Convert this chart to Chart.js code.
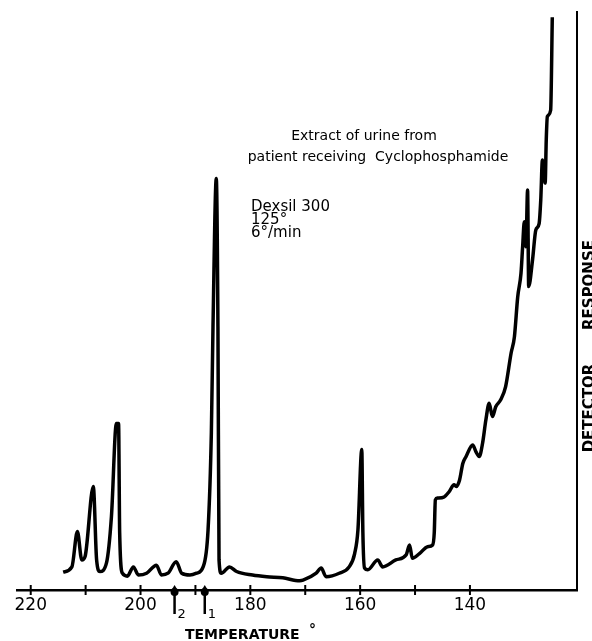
<!DOCTYPE html>
<html>
<head>
<meta charset="utf-8">
<script src="https://cdn.jsdelivr.net/npm/chart.js@4"></script>
<style>
  body { margin: 0; background: #fff; }
  canvas { display: block; }
</style>
</head>
<body>
<canvas id="gcChart" width="592" height="641"></canvas>
<script>
// column temperature (deg C) from left to right
var temps = [214.1, 212.5, 211.5, 210.7, 210.1, 208.6, 208.0, 207.4, 206.2, 205.3,
  204.4, 204.0, 203.8, 203.3, 202.4, 201.3, 200.4, 198.9, 197.1, 196.2,
  195.0, 193.5, 192.5, 191.0, 189.8, 188.6, 187.7, 187.1, 186.8, 186.2,
  185.9, 185.7, 185.3, 183.8, 182.5, 179.6, 177.0, 174.1, 171.0, 170.4,
  168.0, 167.1, 166.2, 163.8, 162.0, 161.0, 160.4, 159.7, 159.5, 159.2,
  158.6, 156.8, 155.9, 153.5, 151.6, 151.0, 150.5, 149.2, 147.7, 146.8,
  146.5, 146.3, 145.9, 144.7, 143.8, 142.9, 142.5, 141.9, 141.3, 140.7,
  139.5, 138.9, 138.3, 137.7, 137.1, 136.5, 135.9, 135.3, 134.4, 133.5,
  132.5, 131.9, 131.3, 130.7, 130.4, 130.1, 129.8, 129.5, 129.3, 128.6,
  128.0, 127.4, 127.1, 126.8, 126.3, 126.1, 125.9, 125.3, 125.0];

// detector response (arbitrary units, 0 - 100)
var response = [3.1, 4.0, 10.1, 5.2, 5.8, 17.9, 5.2, 3.2, 4.7, 12.7,
  28.8, 28.8, 9.9, 2.9, 2.4, 4.0, 2.6, 2.9, 4.3, 2.6,
  2.9, 4.9, 2.9, 2.6, 2.9, 4.0, 10.4, 27.2, 45.6, 71.2,
  45.6, 5.2, 2.9, 4.0, 3.2, 2.6, 2.3, 2.1, 1.6, 1.7,
  2.9, 3.8, 2.3, 2.9, 4.0, 6.3, 10.4, 24.3, 9.9, 3.8,
  3.5, 5.2, 4.0, 5.2, 6.1, 7.8, 5.5, 6.3, 7.5, 7.8,
  9.9, 15.6, 15.9, 16.1, 17.0, 18.2, 17.9, 19.0, 21.9, 23.1,
  25.1, 23.9, 23.1, 25.4, 29.4, 32.3, 30.0, 31.7, 32.9, 35.2,
  41.0, 43.8, 50.7, 54.8, 59.4, 63.7, 59.4, 69.2, 52.5, 57.1,
  62.3, 63.4, 67.5, 74.4, 70.4, 77.9, 81.9, 83.0, 99.1];

var labelTicks = [220, 200, 180, 160, 140];
var minorTicks = [220, 210, 200, 190, 180, 170, 160, 150, 140];
var markerTemps = [193.8, 188.3];
var markerNames = ['2', '1'];

var points = [];
for (var i = 0; i < temps.length; i++) {
  points.push({ x: temps[i], y: response[i] });
}

var decorations = {
  id: 'decorations',
  afterDraw: function (chart) {
    var ctx = chart.ctx;
    var xs = chart.scales.x;
    var bottom = chart.chartArea.bottom;
    ctx.save();
    ctx.strokeStyle = '#000';
    ctx.fillStyle = '#000';
    ctx.lineWidth = 2;

    // tick marks cross the axis line
    minorTicks.forEach(function (t) {
      var px = xs.getPixelForValue(t);
      ctx.beginPath();
      ctx.moveTo(px, bottom - 5);
      ctx.lineTo(px, bottom + 5);
      ctx.stroke();
    });

    // injection markers I2 and I1
    markerTemps.forEach(function (t, k) {
      var px = xs.getPixelForValue(t);
      ctx.lineWidth = 2.5;
      ctx.beginPath();
      ctx.moveTo(px, bottom + 2);
      ctx.lineTo(px, bottom + 24);
      ctx.stroke();
      ctx.beginPath();
      ctx.arc(px, bottom + 2, 4, 0, Math.PI * 2);
      ctx.fill();
      ctx.beginPath();
      ctx.moveTo(px - 3, bottom);
      ctx.lineTo(px, bottom - 5);
      ctx.lineTo(px + 3, bottom);
      ctx.fill();
      ctx.font = '13px "DejaVu Sans"';
      ctx.textAlign = 'left';
      ctx.textBaseline = 'alphabetic';
      ctx.fillText(markerNames[k], px + 3, bottom + 28);
    });

    // notes
    ctx.textAlign = 'center';
    ctx.font = '14px "DejaVu Sans"';
    ctx.fillText('Extract of urine from', 364, 140);
    ctx.fillText('patient receiving  Cyclophosphamide', 378, 161);
    ctx.textAlign = 'left';
    ctx.font = '15px "DejaVu Sans"';
    ctx.fillText('Dexsil 300', 251, 211);
    ctx.fillText('125°', 251, 224);
    ctx.fillText('6°/min', 251, 237);

    ctx.font = 'bold 14px "DejaVu Sans"';
    ctx.fillText('TEMPERATURE', 185, 639);
    ctx.fillText('°', 309, 634);

    // right axis title, reads bottom to top
    ctx.translate(594, 0);
    ctx.rotate(-Math.PI / 2);
    ctx.textAlign = 'center';
    ctx.font = 'bold 15px "DejaVu Sans"';
    ctx.fillText('DETECTOR', -408, 0);
    ctx.fillText('RESPONSE', -285, 0);
    ctx.restore();
  }
};

var ctx = document.getElementById('gcChart');
var chart = new Chart(ctx, {
  type: 'line',
  data: {
    datasets: [{
      data: points,
      borderColor: '#000',
      borderWidth: 3.5,
      pointRadius: 0,
      fill: false,
      cubicInterpolationMode: 'monotone'
    }]
  },
  options: {
    responsive: false,
    animation: false,
    layout: { padding: { left: 17, top: 12, right: 0, bottom: 0 } },
    plugins: { legend: { display: false }, tooltip: { enabled: false } },
    scales: {
      x: {
        type: 'linear',
        reverse: true,
        min: 120.5,
        max: 222.5,
        grid: { display: false },
        border: { display: true, color: '#000', width: 2.5 },
        afterBuildTicks: function (scale) {
          scale.ticks = labelTicks.map(function (v) { return { value: v }; });
        },
        afterFit: function (scale) { scale.height = 51; },
        ticks: {
          color: '#000',
          padding: -3,
          autoSkip: false,
          maxRotation: 0,
          font: { family: 'DejaVu Sans', size: 17 }
        }
      },
      y: {
        position: 'right',
        min: 0,
        max: 100,
        grid: { display: false },
        border: { display: true, color: '#000', width: 2 },
        ticks: { display: false },
        afterFit: function (scale) { scale.width = 15; }
      }
    }
  },
  plugins: [decorations]
});
</script>
</body>
</html>
